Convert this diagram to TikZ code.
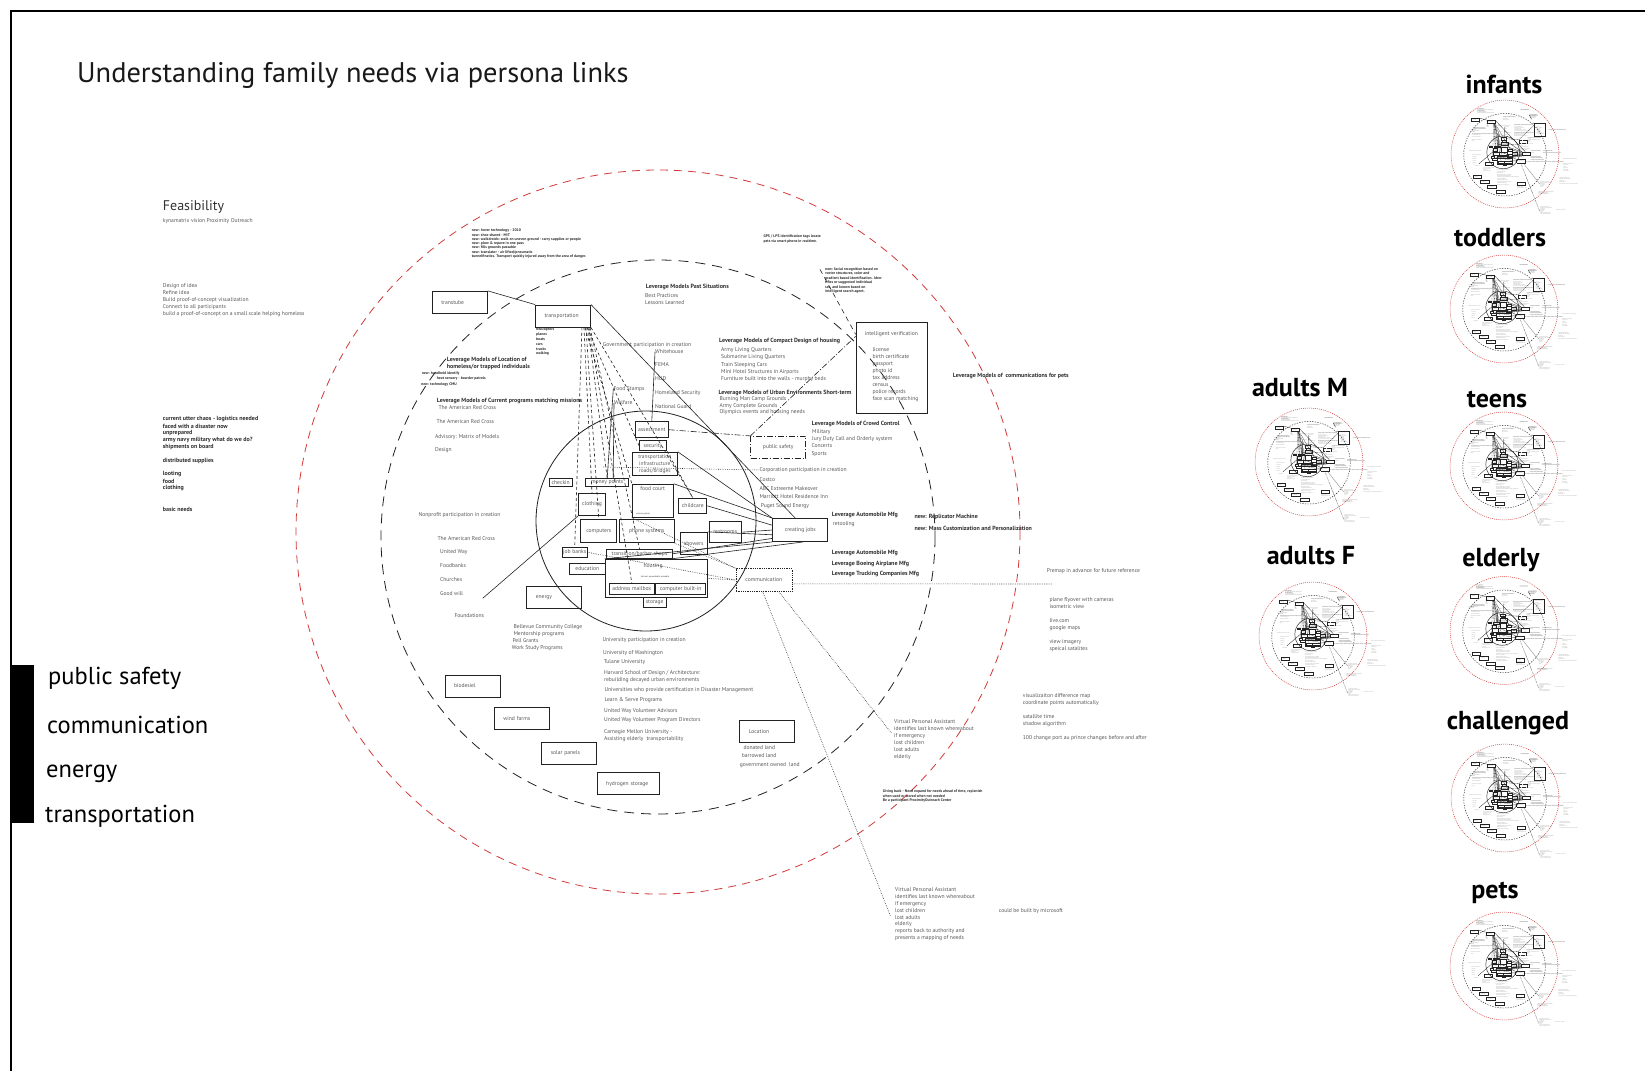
\documentclass[tikz,border=0pt]{standalone}
\usepackage{fontspec}
\setmainfont{PT Sans}
\usetikzlibrary{calc}
\definecolor{txtc}{HTML}{585858}
\definecolor{boldc}{HTML}{2E2E2E}
\definecolor{redc}{HTML}{D23A3A}
\definecolor{linec}{HTML}{222222}
\tikzset{
 bxline/.style={line width=0.9pt},
 lnw/.style={line width=0.6pt},
 rcirc/.style={draw=redc,line width=0.8pt,dash pattern=on 8pt off 6pt},
 kcirc/.style={draw=linec,line width=0.8pt,dash pattern=on 10pt off 7pt},
 icirc/.style={draw=linec,line width=0.8pt},
 sl/.style={draw=linec,lnw},
 dl/.style={draw=linec,lnw,dash pattern=on 3pt off 2.5pt},
 dt/.style={draw=linec,lnw,dash pattern=on 0.6pt off 1.2pt},
 dd/.style={draw=linec,lnw,dash pattern=on 6pt off 2pt on 1pt off 2pt},
 tx/.style={anchor=west,inner sep=0pt,text=txtc,font=\fontsize{5.6}{7}\selectfont},
 txb/.style={anchor=west,inner sep=0pt,text=boldc,font=\fontsize{6}{7}\selectfont\bfseries},
 txs/.style={anchor=west,inner sep=0pt,text=boldc,font=\fontsize{3.8}{4.4}\selectfont\bfseries},
 obx/.style={draw=linec,bxline,inner xsep=9pt,inner ysep=0pt,minimum height=22pt,text=txtc,font=\fontsize{5.6}{6}\selectfont,align=left},
 ibx/.style={draw=linec,bxline,inner sep=0pt,text=txtc,font=\fontsize{5.6}{6}\selectfont,align=center},
 mini/.style={bxline/.style={line width=0.45pt},lnw/.style={line width=0.3pt},
   rcirc/.style={draw=redc,line width=0.5pt,dash pattern=on 1pt off 1pt},
   kcirc/.style={draw=linec,line width=0.45pt,dash pattern=on 1.3pt off 1.3pt},
   icirc/.style={draw=linec,line width=0.45pt},
   dl/.style={draw=linec,lnw,dash pattern=on 0.8pt off 0.6pt},
   dt/.style={draw=linec,lnw,dash pattern=on 0.3pt off 0.5pt},
   dd/.style={draw=linec,lnw,dash pattern=on 1.2pt off 0.5pt on 0.3pt off 0.5pt}},
 persona/.style={font=\fontsize{26}{30}\selectfont\bfseries,text=black,inner sep=0pt},
 lbl/.style={anchor=base west,font=\fontsize{24.5}{28}\selectfont,text=black,inner sep=0pt},
}
\newcommand\drawdiagram{%
\draw[rcirc] (658,532) circle[radius=362];
\draw[kcirc] (658,537) circle[radius=277];
\draw[icirc] (646,521) circle[radius=110];
% outer boxes
\node[obx,text width=37pt] (tt) at (459.8,302.3) {transtube};
\node[obx,text width=37pt] (tp) at (563,316) {transportation};
\node[draw=linec,bxline,minimum width=71pt,minimum height=91pt,inner sep=0pt] (iv) at (891.6,368.3) {};
\node[ibx,minimum width=55pt,minimum height=23pt] (cj) at (800.2,530) {creating jobs};
\node[ibx,dt,minimum width=56pt,minimum height=23pt] (comm) at (763.8,580) {communication};
\node[ibx,dd,minimum width=55pt,minimum height=22pt] (psf) at (778.2,447.2) {public safety};
\node[obx,text width=37pt] (en) at (554.3,597.2) {energy};
\node[obx,text width=37pt] (bio) at (472.5,686) {biodesiel};
\node[obx,text width=37pt] (wind) at (521.8,718.8) {wind farms};
\node[obx,text width=37pt] (solar) at (569.3,753.2) {solar panels};
\node[obx,text width=44pt] (hyd) at (628.2,783.7) {hydrogen storage};
\node[obx,text width=37pt] (loc) at (767.3,731.2) {Location};
% inner boxes
\node[ibx,minimum width=33pt,minimum height=16pt] (as) at (651.8,429.7) {assessment};
\node[ibx,minimum width=27pt,minimum height=10pt] (sec) at (653,445.7) {security};
\node[ibx,minimum width=45pt,minimum height=23pt,font=\fontsize{5.4}{7}\selectfont] (ti) at (654.8,463.7) {transportation\\infrastructure\\roads/bridges};
\node[ibx,minimum width=23pt,minimum height=8pt] (ck) at (560.7,482.2) {checkin};
\node[ibx,minimum width=43pt,minimum height=8pt] (mp) at (607.2,482.5) {money points};
\node[ibx,minimum width=41pt,minimum height=33pt] (fc) at (652.8,500.7) {};
\node[tx,anchor=center] (fct) at (652.8,488.3) {food court};
\node[txs,font=\fontsize{2.2}{3}\selectfont] (fcs) at (636,514) {various genres};
\node[ibx,minimum width=28pt,minimum height=15pt] (cc) at (692.8,505.8) {childcare};
\node[ibx,minimum width=27pt,minimum height=22pt] (cl) at (592,504.5) {clothing};
\node[ibx,minimum width=36pt,minimum height=23pt] (cp) at (598.8,531.3) {computers};
\node[ibx,minimum width=55pt,minimum height=23pt] (ps) at (646.8,531.3) {phone systems};
\node[ibx,minimum width=32pt,minimum height=21pt] (rr) at (725.2,532.2) {restrooms};
\node[ibx,minimum width=27pt,minimum height=22pt] (sh) at (693.7,543.3) {showers};
\node[ibx,minimum width=25pt,minimum height=10pt] (jb) at (574.7,552.3) {job banks};
\node[ibx,minimum width=66pt,minimum height=9pt] (tb) at (639.5,553.7) {transition/barber shops};
\node[ibx,minimum width=36pt,minimum height=11pt] (ed) at (587.3,568.7) {education};
\node[ibx,minimum width=102pt,minimum height=38pt] (hs) at (656.2,578.3) {};
\node[tx,anchor=center] (hst) at (653,565.7) {housing};
\node[txs,anchor=center,font=\fontsize{2.2}{3}\selectfont] (hss) at (655,577) {Include: expandable, movable};
\node[ibx,minimum width=45pt,minimum height=11pt] (am) at (631.8,588.8) {address mailbox};
\node[ibx,minimum width=50pt,minimum height=11pt] (cb) at (680.7,588.8) {computer built-in};
\node[ibx,minimum width=23pt,minimum height=10pt] (st) at (654.7,602.3) {storage};
% texts
\foreach \s [count=\i] in {new: hover technology - 2010, new: shoe shared - MIT, new: walkdroids: walk on uneven ground - carry supplies or people, new: plow \& repave in one pass, new: fills grounds passable, new: translator - air lifted/pneumatic, tunnelfinatics. Transport quickly injured away from the area of danger.}
  \node[txs] (nw\i) at (471.7,{226.4+4.3*\i}) {\s};
\node[txs] (gps1) at (763.3,236.7) {GPS / LPS identification tags locate};
\node[txs] (gps2) at (763.3,242) {pets via smart phone in realtime.};
\foreach \s [count=\i] in {new: facial recognition based on, {vector structures, color and}, gradient based identification. Iden-, tifies or suggested individual, {ses, and known based on}, intelligent search agent.}
  \node[txs] (nf\i) at (825,{265+4.4*\i}) {\s};
\node[txb] (lps) at (645.7,287) {Leverage Models Past Situations};
\node[tx] (lps1) at (645,296) {Best Practices};
\node[tx] (lps2) at (645,303) {Lessons Learned};
\node[tx] (gov) at (602.7,345) {Government participation in creation};
\node[tx] (wh) at (655,352) {Whitehouse};
\node[tx] (fema) at (655,365) {FEMA};
\node[tx] (hud) at (655,379) {HUD};
\node[tx] (hsec) at (655,393) {Homeland Security};
\node[tx] (ng) at (655,407) {National Guard};
\node[tx] (fs) at (613.3,389) {Food Stamps};
\node[tx] (wf) at (614,403) {Welfare};
\foreach \s [count=\i] in {helicopters, planes, boats, cars, trucks, walking}
  \node[txs] (hv\i) at (536,{325.3+4.7*\i}) {\s};
\node[txb] (llo1) at (446.7,360) {Leverage Models of Location of};
\node[txb] (llo2) at (446.7,366.7) {homeless/or trapped individuals};
\node[txs] (llo3) at (421.7,373.7) {new: handheld identify};
\node[txs] (llo4) at (436.7,378.7) {heat sensory - boarder patrols};
\node[txs] (llo5) at (421,384.3) {new: technology CMU};
\node[txb] (lcp) at (436.7,401.3) {Leverage Models of Current programs matching missions};
\node[tx] (lcp1) at (438.3,408) {The American Red Cross};
\node[tx] (lcp2) at (436.3,422) {The American Red Cross};
\node[tx] (lcp3) at (435,437) {Advisory: Matrix of Models};
\node[tx] (lcp4) at (435,450) {Design};
\node[txb] (lcd) at (719,341) {Leverage Models of Compact Design of housing};
\foreach \s [count=\i] in {Army Living Quarters, Submarine Living Quarters, Train Sleeping Cars, Mini Hotel Structures in Airports, Furniture built into the walls - murphy beds}
  \node[tx] (lcd\i) at (721,{342.5+7.4*\i}) {\s};
\node[txb] (lue) at (718.3,393.3) {Leverage Models of Urban Environments Short-term};
\foreach \s [count=\i] in {Burning Man Camp Grounds, Army Complete Grounds, Olympics events and housing needs}
  \node[tx] (lue\i) at (719.3,{392.4+6.65*\i}) {\s};
\node[tx,anchor=center] (ivt) at (891.3,334) {intelligent verification};
\foreach \s [count=\i] in {license, birth certificate, passport, photo id, tax address, census, police records, face scan matching}
  \node[tx] (ivl\i) at (872.3,{343+7*\i}) {\s};
\node[txb] (lcpets) at (952.7,376) {Leverage Models of \ communications for pets};
\node[txb] (lcc) at (811.7,424) {Leverage Models of Crowd Control};
\node[tx] (lcc1) at (812,432) {Military};
\node[tx] (lcc2) at (812,439) {Jury Duty Call and Orderly system};
\node[tx] (lcc3) at (811.3,446) {Concerts};
\node[tx] (lcc4) at (811.3,454) {Sports};
\node[tx] (corp) at (759.3,470) {Corporation participation in creation};
\node[tx] (corp1) at (759.3,480) {Costco};
\node[tx] (corp2) at (759.3,489) {ABC Extreeme Makeover};
\node[tx] (corp3) at (759.3,497) {Marriott Hotel Residence Inn};
\node[tx] (corp4) at (760.7,506) {Puget Sound Energy};
\node[txb] (lam1) at (831.7,515) {Leverage Automobile Mfg};
\node[tx] (lam2) at (832.7,524) {retooling};
\node[txb] (rep1) at (914.3,517) {new: Replicator Machine};
\node[txb] (rep2) at (914.3,528) {new: Mass Customization and Personalization};
\node[txb] (lm1) at (831.7,553) {Leverage Automobile Mfg};
\node[txb] (lm2) at (831.7,564) {Leverage Boeing Airplane Mfg};
\node[txb] (lm3) at (831.7,574) {Leverage Trucking Companies Mfg};
\node[tx] (premap) at (1046.7,570.7) {Premap in advance for future reference};
\node[tx] (pf1) at (1049.3,600) {plane flyover with cameras};
\node[tx] (pf2) at (1049.3,606.7) {isometric view};
\node[tx] (pf3) at (1049.3,621) {live.com};
\node[tx] (pf4) at (1049.3,628) {google maps};
\node[tx] (pf5) at (1049.3,642) {view imagery};
\node[tx] (pf6) at (1049.3,649) {speical satalites};
\node[tx] (vz1) at (1022.7,696) {visualizaiton difference map};
\node[tx] (vz2) at (1022.7,703) {coordinate points automatically};
\node[tx] (vz3) at (1022.7,717) {satallite time};
\node[tx] (vz4) at (1022.7,724) {shadow algorithm};
\node[tx] (vz5) at (1022.7,738) {100 change port au prince changes before and after};
\foreach \s [count=\i] in {Virtual Personal Assistant, identifies last known whereabout, if emergency, lost children, lost adults, elderly}
  \node[tx] (va\i) at (894,{715+7*\i}) {\s};
\node[txs] (gb1) at (882.7,791.7) {Giving back - Need expand for needs ahead of time, replenish};
\node[txs] (gb2) at (882.7,795.7) {when used or stored when not needed};
\node[txs] (gb3) at (882.7,800.7) {Be a participant ProximityOutreach Center};
\foreach \s [count=\i] in {Virtual Personal Assistant, identifies last known whereabout, if emergency, lost children, lost adults, elderly, reports back to authority and, presents a mapping of needs}
  \node[tx] (vb\i) at (895,{883+6.9*\i}) {\s};
\node[tx] (msft) at (998.7,911) {could be built by microsoft};
\node[tx] (npf) at (418.3,515) {Nonprofit participation in creation};
\node[tx] (npf1) at (437.3,538.7) {The American Red Cross};
\node[tx] (npf2) at (440,552) {United Way};
\node[tx] (npf3) at (440,565.7) {Foodbanks};
\node[tx] (npf4) at (440,580) {Churches};
\node[tx] (gw) at (440,593.7) {Good will};
\node[tx] (fnd) at (454.3,616) {Foundations};
\node[tx] (bcc1) at (513.3,626.7) {Bellevue Community College};
\node[tx] (bcc2) at (513.3,634) {Mentorship programs};
\node[tx] (bcc3) at (512.3,641) {Pell Grants};
\node[tx] (bcc4) at (511.7,648) {Work Study Programs};
\node[tx] (uni) at (602.3,640) {University participation in creation};
\node[tx] (un1) at (603,653) {University of Washington};
\node[tx] (un2) at (603.7,662) {Tulane University};
\node[tx] (un3) at (604,672.7) {Harvard School of Design / Architecture:};
\node[tx] (un4) at (604,680) {rebuilding decayed urban environments};
\node[tx] (un5) at (604.3,690) {Universities who provide certification in Disaster Management};
\node[tx] (un6) at (604.3,700) {Learn \& Serve Programs};
\node[tx] (un7) at (604,710.7) {United Way Volunteer Advisors};
\node[tx] (un8) at (604,720) {United Way Volunteer Program Directors};
\node[tx] (un9) at (604,731.7) {Carnegie Mellon University -};
\node[tx] (un10) at (604,739) {Assisting elderly \ transportability};
\node[tx] (lo1) at (743.3,748) {donated land};
\node[tx] (lo2) at (741.7,756) {barrowed land};
\node[tx] (lo3) at (739.7,765) {government owned \ land};
% connectors
\coordinate (gwend) at (482.7,598.3);
\coordinate (corps) at (603,467);
\coordinate (prem) at (1052,584);
\coordinate (vaend) at (891.7,733.3);
\coordinate (vbend) at (890.7,916.7);
\draw[sl] (tt.north east) -- (tp.north west);
\draw[sl] (tp.north east) -- ($(cj.north)+(-5,0)$);
\draw[sl] (wh.west) -- (as.north);
\draw[sl] (fs.west) -- (mp.north);
\draw[sl] (wf.west) -- ($(mp.north)+(6,0)$);
\draw[sl] (cl.south west) -- (gwend);
\draw[sl] (ti.north east) -- (cj.north west);
\draw[sl] (fc.north east) -- (cj.north west);
\draw[sl] (cc.east) -- ($(cj.north west)!0.3!(cj.south west)$);
\draw[sl] (rr.east) -- ($(cj.north west)!0.5!(cj.south west)$);
\draw[sl] (sh.north east) -- ($(cj.north west)!0.7!(cj.south west)$);
\draw[sl] (tb.east) -- ($(cj.north west)!0.85!(cj.south west)$);
\draw[sl] (hs.north west) -- (cj.south west);
\draw[sl] (tb.south east) -- ($(cj.south west)!0.55!(cj.south east)$);
\foreach \dx/\tg in {-9/jb.north, -7/cl.north, -6/fc.north west, -5/cp.north, -4/sec.west, -3/mp.north, -2/am.north, -1/tb.north, 0/cc.north}
  \draw[dl] ($(tp.south east)+(\dx,0)$) -- (\tg);
\draw[dl] (sec.south east) -- (cc.north);
\draw[dt] (corps) -- (corp.west);
\draw[dt] (jb.east) -- (comm.west);
\draw[dt] (fc.south west) -- (comm.north west);
\draw[dt] (ps.south east) -- (comm.north west);
\draw[dt] (hs.east) -- (comm.west);
\draw[dt] ($(comm.south east)+(0,-8)$) -- (prem);
\draw[dt] ($(comm.south)+(-1,0)$) -- (vbend);
\draw[dt] ($(comm.south)+(15,0)$) -- (vaend);
\draw[dd] (as.east) -- (psf.north west);
\draw[dd] (psf.north west) -- ($(iv.north west)+(0,14)$);
\draw[dl,dash pattern=on 5pt off 4pt] ($(nf1.west)+(-5,0)$) -- ($(iv.north west)+(0,12)$);
}
\newcommand\minicopy[3]{%
 \begin{scope}[shift={({#1-0.149*658},{#2-0.149*532})},scale=0.149,transform shape,name prefix=#3-,mini]
 \drawdiagram
 \end{scope}}
\begin{document}
\begin{tikzpicture}[x=1pt,y=-1pt]
\useasboundingbox (0,0) rectangle (1645,1071);
\fill[white] (0,0) rectangle (1645,1071);
\draw[line width=2pt,black] (10.5,1071) -- (10.5,10.5) -- (1645,10.5);
\node[anchor=west,inner sep=0pt,font=\fontsize{28.4}{32}\selectfont,text=black!90] (title) at (77,75) {Understanding family needs via persona links};
\node[anchor=west,inner sep=0pt,font=\fontsize{14}{16}\selectfont,text=black!80] (feas) at (162.7,207) {Feasibility};
\node[tx] (kyn) at (162.7,221) {kynamatrix vision Proximity Outreach};
\foreach \s [count=\i] in {Design of idea, Refine idea, Build proof-of-concept visualization, Connect to all participants, build a proof-of-concept on a small scale helping homeless}
  \node[tx] (dsg\i) at (162.7,{279+7*\i}) {\s};
\node[txb] (ch1) at (162.7,419) {current utter chaos - logistics needed};
\node[txb] (ch2) at (162.7,426) {faced with a disaster now};
\node[txb] (ch3) at (162.7,433) {unprepared};
\node[txb] (ch4) at (162.7,440) {army navy military what do we do?};
\node[txb] (ch5) at (162.7,447) {shipments on board};
\node[txb] (ch6) at (162.7,461) {distributed supplies};
\node[txb] (ch7) at (162.7,474) {looting};
\node[txb] (ch8) at (162.7,481) {food};
\node[txb] (ch9) at (162.7,488) {clothing};
\node[txb] (ch10) at (162.7,509) {basic needs};
\fill[black] (10.5,665) rectangle (33.5,823);
\node[lbl] (l1) at (48,684) {public safety};
\node[lbl] (l2) at (47,733) {communication};
\node[lbl] (l3) at (46,777) {energy};
\node[lbl] (l4) at (45,822) {transportation};
\drawdiagram
\node[persona] (pa) at (1504,84) {infants};
\node[persona] (pb) at (1500,238) {toddlers};
\node[persona] (pc) at (1300,388) {adults M};
\node[persona] (pd) at (1497,399) {teens};
\node[persona] (pe) at (1311,556) {adults F};
\node[persona] (pf) at (1501,560) {elderly};
\node[persona] (pg) at (1508,723) {challenged};
\node[persona] (ph) at (1495,893) {pets};
\minicopy{1505}{154}{ma}
\minicopy{1504}{309}{mb}
\minicopy{1309}{462}{mc}
\minicopy{1504}{466}{md}
\minicopy{1313}{636}{me}
\minicopy{1504}{630.5}{mf}
\minicopy{1505}{798}{mg}
\minicopy{1504}{966}{mh}
\end{tikzpicture}
\end{document}
